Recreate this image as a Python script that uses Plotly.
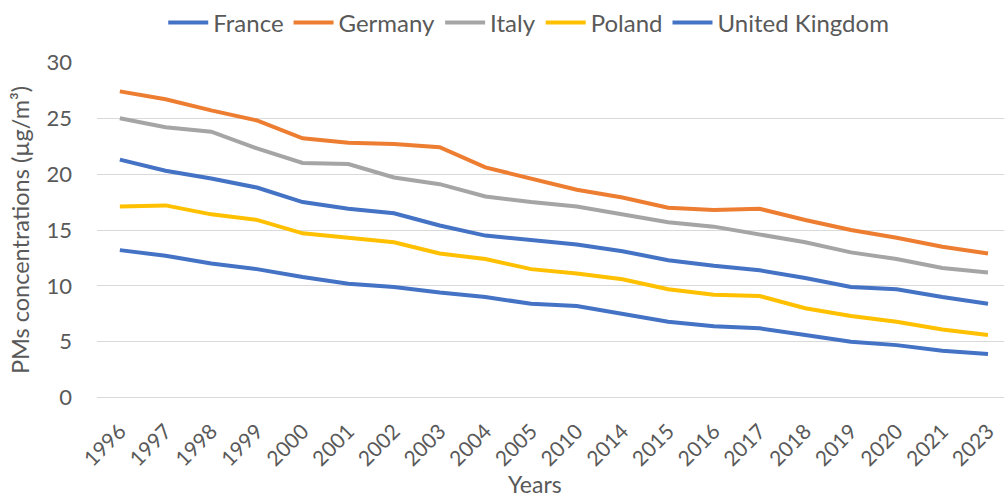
import plotly.graph_objects as go

years = ["1996", "1997", "1998", "1999", "2000", "2001", "2002", "2003", "2004", "2005",
         "2010", "2014", "2015", "2016", "2017", "2018", "2019", "2020", "2021", "2023"]

france = [21.3, 20.3, 19.6, 18.8, 17.5, 16.9, 16.5, 15.4, 14.5, 14.1,
          13.7, 13.1, 12.3, 11.8, 11.4, 10.7, 9.9, 9.7, 9.0, 8.4]
germany = [27.4, 26.7, 25.7, 24.8, 23.2, 22.8, 22.7, 22.4, 20.6, 19.6,
           18.6, 17.9, 17.0, 16.8, 16.9, 15.9, 15.0, 14.3, 13.5, 12.9]
italy = [25.0, 24.2, 23.8, 22.3, 21.0, 20.9, 19.7, 19.1, 18.0, 17.5,
         17.1, 16.4, 15.7, 15.3, 14.6, 13.9, 13.0, 12.4, 11.6, 11.2]
poland = [17.1, 17.2, 16.4, 15.9, 14.7, 14.3, 13.9, 12.9, 12.4, 11.5,
          11.1, 10.6, 9.7, 9.2, 9.1, 8.0, 7.3, 6.8, 6.1, 5.6]
uk = [13.2, 12.7, 12.0, 11.5, 10.8, 10.2, 9.9, 9.4, 9.0, 8.4,
      8.2, 7.5, 6.8, 6.4, 6.2, 5.6, 5.0, 4.7, 4.2, 3.9]

series = [("France", france, "#4472C4"),
          ("Germany", germany, "#ED7D31"),
          ("Italy", italy, "#A5A5A5"),
          ("Poland", poland, "#FFC000"),
          ("United Kingdom", uk, "#4472C4")]

FONT = "Lato"
TXT = "#595959"
GRID = "#D9D9D9"

fig = go.Figure()
for name, vals, col in series:
    fig.add_trace(go.Scatter(x=years, y=vals, name=name, mode="lines",
                             line=dict(color=col, width=4)))

fig.update_layout(
    width=1004, height=499,
    margin=dict(l=97, r=0, t=62, b=101),
    paper_bgcolor="white", plot_bgcolor="white",
    font=dict(family=FONT, size=22, color=TXT),
    showlegend=True,
    legend=dict(orientation="h", x=0.476, xanchor="center", y=1.116, yanchor="middle",
                font=dict(family=FONT, size=24, color=TXT),
                bgcolor="rgba(0,0,0,0)", itemwidth=40, tracegroupgap=0),
    xaxis=dict(type="category", range=[-0.5, 19.35], showgrid=False, zeroline=False,
               showline=False, ticks="", tickangle=-45, ticklabelstandoff=16,
               tickfont=dict(family=FONT, size=21, color=TXT)),
    yaxis=dict(range=[-0.03, 30.03], tickvals=[0, 5, 10, 15, 20, 25, 30],
               showgrid=True, gridcolor=GRID, gridwidth=1,
               zeroline=True, zerolinecolor=GRID, zerolinewidth=1,
               showline=False, ticks="", ticklabelstandoff=24,
               tickfont=dict(family=FONT, size=22, color=TXT),
               title=dict(text="PMs concentrations (µg/m³)", standoff=10,
                          font=dict(family=FONT, size=23.5, color=TXT))),
)
fig.add_annotation(text="Years", xref="paper", yref="paper", x=(535 - 97) / 907,
                   y=(398.3 - 484) / 336.3,
                   xanchor="center", yanchor="middle", showarrow=False,
                   font=dict(family=FONT, size=23, color=TXT))
fig.write_html("out.html")
